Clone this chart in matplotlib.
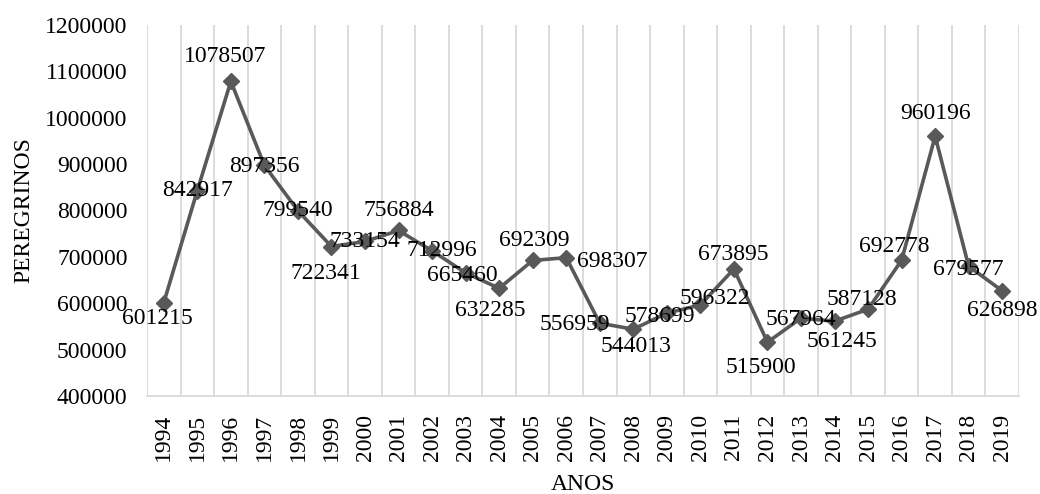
import matplotlib
matplotlib.use("Agg")
import matplotlib.pyplot as plt
from matplotlib.ticker import FixedLocator, MultipleLocator, FuncFormatter

plt.rcParams['font.family'] = ['Liberation Serif', 'DejaVu Serif']

# Pilgrims per year
anos = [str(y) for y in range(1994, 2020)]
peregrinos = [601215, 842917, 1078507, 897356, 799540, 722341, 733154, 756884,
              712996, 665460, 632285, 692309, 698307, 556959, 544013, 578699,
              596322, 673895, 515900, 567964, 561245, 587128, 692778, 960196,
              679577, 626898]

# Label offsets from each marker (pixels; +x right, +y down)
label_offsets_px = [(-6, 16), (0, 0), (-6, -25), (0, 1), (0, 0), (-6, 27),
                    (0, 0), (0, -20), (10, 0), (-3, 3), (-9, 22), (2, -20),
                    (46, 4), (-25, 1), (3, 17), (-7, 3), (14, -6), (-1, -14),
                    (-7, 25), (0, 1), (7, 20), (-6, -10), (-7, -14), (0, -23),
                    (0, 3), (0, 20)]

FS = 17
W, H, DPI = 1040, 494, 100
fig = plt.figure(figsize=(W / DPI, H / DPI), dpi=DPI)
ax = fig.add_axes([147 / W, 1 - 396 / H, (1019 - 147) / W, (396 - 25) / H])

x = list(range(len(anos)))
line_col = '#595959'
grid_col = '#d9d9d9'

ax.plot(x, peregrinos, color=line_col, linewidth=2.6, marker='D',
        markersize=8.5, markerfacecolor=line_col, markeredgecolor=line_col,
        zorder=3, solid_joinstyle='round')

ax.set_xlim(-0.5, len(anos) - 0.5)
ax.set_ylim(400000, 1200000)
ax.yaxis.set_major_locator(MultipleLocator(100000))
ax.yaxis.set_major_formatter(FuncFormatter(lambda v, p: f"{int(round(v))}"))
ax.set_xticks(x)
ax.set_xticklabels(anos, rotation=90, fontsize=FS)
ax.tick_params(axis='y', labelsize=FS, length=0, pad=14)
ax.tick_params(axis='x', length=0, pad=13)

# vertical gridlines between categories
ax.xaxis.set_minor_locator(FixedLocator([i - 0.5 for i in range(len(anos) + 1)]))
ax.grid(which='minor', axis='x', color=grid_col, linewidth=1.3)
ax.tick_params(which='minor', length=0)

for side in ('top', 'right', 'left'):
    ax.spines[side].set_visible(False)
ax.spines['bottom'].set_color(grid_col)
ax.spines['bottom'].set_linewidth(1.3)

for xi, v, (dx, dy) in zip(x, peregrinos, label_offsets_px):
    ax.annotate(str(v), (xi, v), xytext=(dx * 0.72, -dy * 0.72),
                textcoords='offset points', ha='center', va='center',
                fontsize=FS, color='black', zorder=4)

ax.set_xlabel('ANOS', fontsize=FS, labelpad=9)
ax.set_ylabel('PEREGRINOS', fontsize=FS, labelpad=8)

fig.savefig('out.png', dpi=DPI)
